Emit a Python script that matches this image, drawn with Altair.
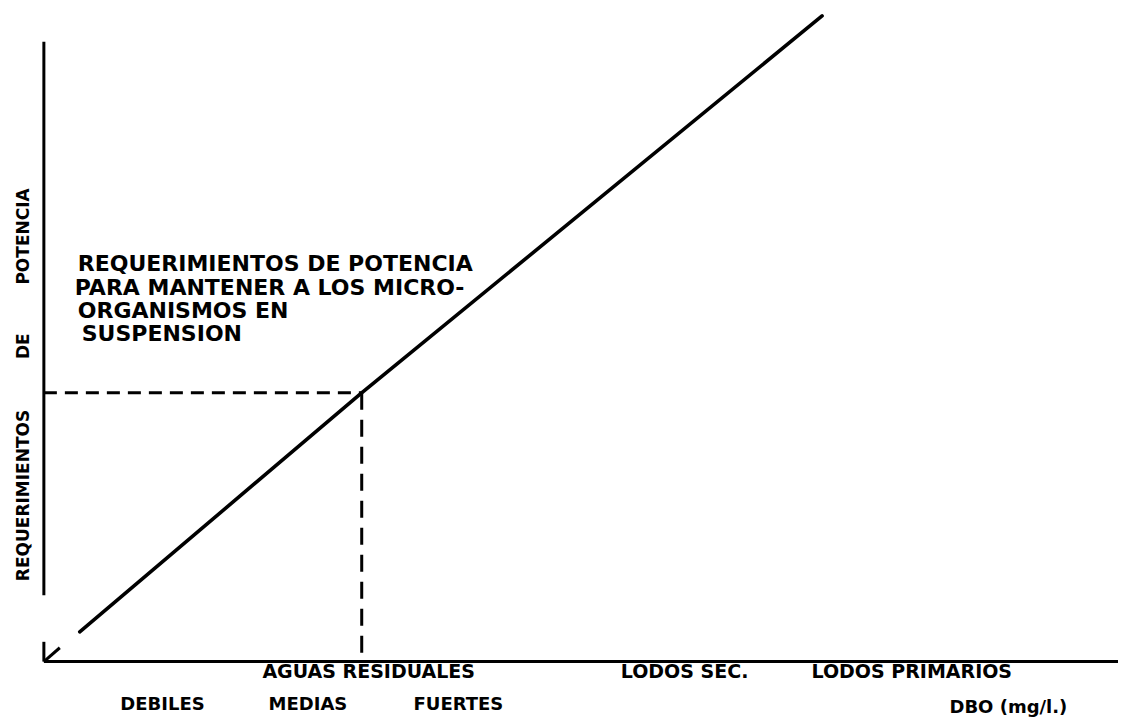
import altair as alt
import pandas as pd

# ---- data (relative units: x = DBO, y = power requirement; origin at axes corner)
line_x = [36, 318, 506, 781]
line_y = [30, 271, 426, 653]

ref_x = 319          # "aguas residuales" reference DBO
ref_y = 272          # power needed to keep micro-organisms in suspension

x_axis_end = 1078
y_axis_top = 627
y_axis_break = 67
corner_stub = 20
corner_arrow_x = 16
corner_arrow_y = 14

note_lines = ["REQUERIMIENTOS DE POTENCIA",
              "PARA MANTENER A LOS MICRO-",
              "ORGANISMOS EN",
              "SUSPENSION"]
note_x = [34, 31, 34, 38]
note_y = [395, 371, 348, 324]

row1_text = ["AGUAS RESIDUALES", "LODOS SEC.", "LODOS PRIMARIOS"]
row1_x = [326, 643, 871]
row1_y = [-17, -17, -17]

row2_text = ["DEBILES", "MEDIAS", "FUERTES", "DBO (mg/l.)"]
row2_x = [119, 265, 416, 968]
row2_y = [-49, -49, -49, -52]

ytitle_text = ["POTENCIA", "DE", "REQUERIMIENTOS"]
ytitle_y = [430, 319, 168]

# ---- chart
W, H = 1112, 709
xs = alt.Scale(domain=[-36, 1076], nice=False, zero=False)
ys = alt.Scale(domain=[-52, 657], nice=False, zero=False)
FONT = "DejaVu Sans"

def X(f):
    return alt.X(f, type="quantitative", scale=xs, axis=None)

def Y(f):
    return alt.Y(f, type="quantitative", scale=ys, axis=None)

line_df = pd.DataFrame({"x": line_x, "y": line_y, "o": list(range(len(line_x)))})
main_line = alt.Chart(line_df).mark_line(color="black", strokeWidth=3.6, strokeCap="round").encode(
    x=X("x"), y=Y("y"), order="o:O")

axes_df = pd.DataFrame({
    "x": [0, 0, 0, 0],
    "y": [0, y_axis_break, 0, 0],
    "x2": [x_axis_end, 0, 0, corner_arrow_x],
    "y2": [0, y_axis_top, corner_stub, corner_arrow_y],
})
axes = alt.Chart(axes_df).mark_rule(color="black", strokeWidth=3).encode(
    x=X("x"), y=Y("y"), x2="x2:Q", y2="y2:Q")

hdash_df = pd.DataFrame({"x": [0], "y": [ref_y], "x2": [ref_x], "y2": [ref_y]})
hdash = alt.Chart(hdash_df).mark_rule(color="black", strokeWidth=3, strokeDash=[13, 8]).encode(
    x=X("x"), y=Y("y"), x2="x2:Q", y2="y2:Q")

vdash_df = pd.DataFrame({"x": [ref_x], "y": [ref_y], "x2": [ref_x], "y2": [0]})
vdash = alt.Chart(vdash_df).mark_rule(color="black", strokeWidth=3, strokeDash=[17, 10]).encode(
    x=X("x"), y=Y("y"), x2="x2:Q", y2="y2:Q")

note_df = pd.DataFrame({"t": note_lines, "x": note_x, "y": note_y})
notes = alt.Chart(note_df).mark_text(
    align="left", baseline="alphabetic", font=FONT, fontWeight="bold",
    fontSize=22, color="black").encode(x=X("x"), y=Y("y"), text="t:N")

r1_df = pd.DataFrame({"t": row1_text, "x": row1_x, "y": row1_y})
row1 = alt.Chart(r1_df).mark_text(
    align="center", baseline="alphabetic", font=FONT, fontWeight="bold",
    fontSize=19, color="black").encode(x=X("x"), y=Y("y"), text="t:N")

r2_df = pd.DataFrame({"t": row2_text, "x": row2_x, "y": row2_y})
row2 = alt.Chart(r2_df).mark_text(
    align="center", baseline="alphabetic", font=FONT, fontWeight="bold",
    fontSize=18, color="black").encode(x=X("x"), y=Y("y"), text="t:N")

yt_df = pd.DataFrame({"t": ytitle_text, "x": [-20] * len(ytitle_text), "y": ytitle_y})
ytitle = alt.Chart(yt_df).mark_text(
    align="center", baseline="middle", angle=270, font=FONT, fontWeight="bold",
    fontSize=17, color="black").encode(x=X("x"), y=Y("y"), text="t:N")

chart = alt.layer(axes, hdash, vdash, main_line, notes, row1, row2, ytitle).properties(
    width=W, height=H, background="white", padding=0,
    autosize=alt.AutoSizeParams(type="fit", contains="padding"),
).configure_view(stroke=None)

chart.save("out.html", embed_options={"renderer": "svg", "actions": False})
